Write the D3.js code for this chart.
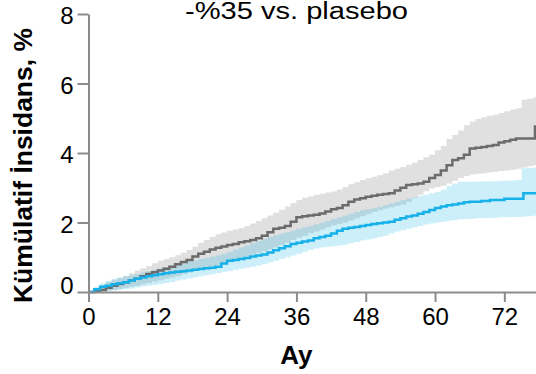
<!DOCTYPE html>
<html><head><meta charset="utf-8">
<script src="https://cdn.jsdelivr.net/npm/d3@7"></script>
<style>html,body{margin:0;padding:0;background:#fff;}svg{display:block;}</style>
</head><body>
<svg id="c" width="536" height="374"></svg>
<script>
const title = "-%35 vs. plasebo";
const yLabel = "Kümülatif İnsidans, %";
const xLabel = "Ay";
const xTicks = [0, 12, 24, 36, 48, 60, 72];
const yTicks = [0, 2, 4, 6, 8];

// Placebo (gray) step curve: [month, %]
const placebo = [[0,0],[1,0.02],[2,0.06],[3,0.12],[4,0.18],[5,0.23],[6,0.28],[7,0.33],[8,0.38],[9,0.45],[10,0.52],[11,0.57],[12,0.62],[13,0.67],[14,0.73],[15,0.8],[16,0.86],[17,0.92],[18,1.02],[19,1.1],[20,1.16],[21,1.22],[22,1.27],[23,1.31],[24,1.35],[25,1.38],[26,1.43],[27,1.46],[28,1.5],[29,1.55],[30,1.62],[31,1.72],[32,1.82],[33,1.85],[34,1.9],[35,2.02],[36,2.15],[37,2.18],[38,2.2],[39,2.22],[40,2.26],[41,2.32],[42,2.38],[43,2.42],[44,2.5],[45,2.6],[46,2.66],[47,2.7],[48,2.74],[49,2.77],[50,2.8],[51,2.82],[52,2.84],[53,2.92],[54,3.0],[55,3.08],[56,3.1],[57,3.12],[58,3.17],[59,3.28],[60,3.37],[61,3.5],[62,3.65],[63,3.8],[64,3.85],[65,3.95],[66,4.13],[67,4.15],[68,4.17],[69,4.2],[70,4.23],[71,4.3],[72,4.34],[73,4.38],[74,4.42],[77.3,4.76],[78,4.76]];

// Treatment (blue) step curve
const treatment = [[0,0],[1,0.08],[2,0.15],[3,0.18],[4,0.22],[5,0.25],[6,0.28],[7,0.33],[8,0.38],[9,0.42],[10,0.45],[11,0.48],[12,0.51],[13,0.54],[14,0.56],[15,0.58],[16,0.6],[17,0.62],[18,0.64],[19,0.66],[20,0.68],[21,0.7],[22,0.73],[23,0.82],[24,0.9],[25,0.92],[26,0.95],[27,0.98],[28,1.02],[29,1.05],[30,1.08],[31,1.14],[32,1.2],[33,1.26],[34,1.32],[35,1.38],[36,1.42],[37,1.45],[38,1.48],[39,1.55],[40,1.58],[41,1.62],[42,1.68],[43,1.76],[44,1.82],[45,1.85],[46,1.87],[47,1.9],[48,1.93],[49,1.96],[50,1.98],[51,2.0],[52,2.02],[53,2.08],[54,2.12],[55,2.17],[56,2.2],[57,2.25],[58,2.3],[59,2.36],[60,2.42],[61,2.46],[62,2.5],[63,2.52],[64,2.55],[65,2.58],[66,2.6],[68,2.62],[69.5,2.65],[72,2.68],[75.3,2.84],[78,2.84]];

// Confidence bands: [month, lower, upper]
const placeboCI = [[0,0,0.02],[1,0,0.1],[2,0.02,0.2],[3,0.04,0.28],[4,0.06,0.35],[5,0.09,0.4],[6,0.12,0.46],[7,0.15,0.54],[8,0.18,0.62],[9,0.22,0.68],[10,0.26,0.75],[11,0.3,0.83],[12,0.34,0.9],[13,0.38,0.95],[14,0.42,1.0],[15,0.46,1.06],[16,0.51,1.13],[17,0.56,1.21],[18,0.61,1.3],[19,0.66,1.42],[20,0.7,1.5],[21,0.74,1.58],[22,0.78,1.66],[23,0.82,1.71],[24,0.87,1.76],[25,0.92,1.8],[26,0.97,1.84],[27,1.02,1.9],[28,1.07,1.97],[29,1.12,2.04],[30,1.17,2.12],[31,1.22,2.2],[32,1.28,2.28],[33,1.35,2.37],[34,1.42,2.46],[35,1.5,2.56],[36,1.56,2.65],[37,1.62,2.71],[38,1.69,2.75],[39,1.74,2.79],[40,1.8,2.83],[41,1.86,2.86],[42,1.92,2.89],[43,1.96,2.95],[44,2.0,3.02],[45,2.06,3.1],[46,2.12,3.16],[47,2.18,3.22],[48,2.24,3.27],[49,2.3,3.32],[50,2.35,3.36],[51,2.4,3.42],[52,2.44,3.5],[53,2.48,3.55],[54,2.52,3.6],[55,2.6,3.66],[56,2.7,3.72],[57,2.8,3.8],[58,2.9,3.88],[59,2.98,3.95],[60,3.02,4.08],[61,3.06,4.2],[62,3.12,4.4],[63,3.2,4.52],[64,3.28,4.65],[65,3.34,4.8],[66,3.38,4.91],[67,3.4,4.98],[68,3.42,5.03],[69,3.44,5.07],[70,3.46,5.1],[71,3.48,5.15],[72,3.5,5.2],[73,3.52,5.25],[74,3.55,5.29],[75,3.58,5.53],[76,3.62,5.56],[77,3.65,5.6],[78,3.68,5.65]];
const treatmentCI = [[0,0,0.02],[1,0,0.15],[2,0.02,0.25],[3,0.03,0.32],[4,0.04,0.38],[5,0.06,0.42],[6,0.08,0.45],[7,0.1,0.48],[8,0.13,0.52],[9,0.16,0.56],[10,0.18,0.6],[11,0.2,0.64],[12,0.23,0.68],[13,0.26,0.72],[14,0.29,0.76],[15,0.33,0.8],[16,0.36,0.84],[17,0.39,0.88],[18,0.42,0.91],[19,0.45,0.95],[20,0.48,0.98],[21,0.51,1.02],[22,0.55,1.06],[23,0.58,1.1],[24,0.6,1.15],[25,0.64,1.22],[26,0.67,1.28],[27,0.7,1.34],[28,0.73,1.4],[29,0.76,1.47],[30,0.8,1.53],[31,0.85,1.58],[32,0.9,1.63],[33,0.95,1.68],[34,1.0,1.72],[35,1.05,1.77],[36,1.1,1.82],[37,1.16,1.86],[38,1.21,1.9],[39,1.25,1.95],[40,1.28,2.0],[41,1.3,2.05],[42,1.32,2.1],[43,1.34,2.15],[44,1.36,2.2],[45,1.4,2.25],[46,1.44,2.3],[47,1.48,2.35],[48,1.51,2.38],[49,1.54,2.41],[50,1.58,2.45],[51,1.62,2.5],[52,1.68,2.55],[53,1.74,2.6],[54,1.78,2.64],[55,1.82,2.68],[56,1.86,2.72],[57,1.9,2.76],[58,1.94,2.8],[59,1.97,2.84],[60,2.0,2.88],[61,2.02,2.95],[62,2.05,3.05],[63,2.07,3.12],[64,2.09,3.17],[65,2.1,3.17],[66,2.11,3.17],[67,2.12,3.18],[68,2.13,3.18],[69,2.13,3.19],[70,2.14,3.19],[71,2.15,3.2],[72,2.15,3.2],[73,2.16,3.21],[74,2.16,3.22],[75,2.17,3.56],[76,2.18,3.57],[77,2.2,3.58],[78,2.22,3.6]];

const svg = d3.select("#c");
const x = d3.scaleLinear().domain([0, 78]).range([88.5, 539]);
const y = d3.scaleLinear().domain([0, 8]).range([292, 14]);
const axisColor = "#8c8c8c";

const area = d3.area().curve(d3.curveStepAfter)
  .x(d => x(d[0])).y0(d => y(d[1])).y1(d => y(d[2]));
const line = d3.line().curve(d3.curveStepAfter)
  .x(d => x(d[0])).y(d => y(d[1]));

svg.append("path").datum(placeboCI).attr("d", area).attr("fill", "#e0e0e0");
svg.append("path").datum(treatmentCI).attr("d", area).attr("fill", "rgba(0,176,232,0.2)");
svg.append("path").datum(placebo).attr("d", line).attr("fill", "none")
  .attr("stroke", "#6b6b6b").attr("stroke-width", 2.5);
svg.append("path").datum(treatment).attr("d", line).attr("fill", "none")
  .attr("stroke", "#17b1ea").attr("stroke-width", 2.5);

// Axes
const xAxis = d3.axisBottom(x).tickValues(xTicks).tickSize(10).tickPadding(6).tickSizeOuter(0);
const gx = svg.append("g").attr("transform", `translate(0,${y(0)})`).call(xAxis);
gx.select(".domain").attr("stroke", axisColor).attr("stroke-width", 2);
gx.selectAll(".tick line").attr("stroke", axisColor).attr("stroke-width", 2);
gx.selectAll(".tick text").attr("font-family", "Liberation Sans, Arial, sans-serif")
  .attr("font-size", 24).attr("fill", "#000");

const yAxis = d3.axisLeft(y).tickValues(yTicks).tickSize(11).tickPadding(4).tickSizeOuter(0);
const gy = svg.append("g").attr("transform", `translate(${x(0)},0)`).call(yAxis);
gy.select(".domain").attr("stroke", axisColor).attr("stroke-width", 2);
gy.selectAll(".tick line").attr("stroke", axisColor).attr("stroke-width", 2);
gy.selectAll(".tick text").attr("font-family", "Liberation Sans, Arial, sans-serif")
  .attr("font-size", 24).attr("fill", "#000")
  .attr("dy", d => d === 0 ? "0.05em" : "0.4em");

// Labels
svg.append("text").attr("x", x(36)).attr("y", 364).attr("text-anchor", "middle")
  .attr("font-family", "Liberation Sans, Arial, sans-serif").attr("font-weight", "bold")
  .attr("font-size", 26).text(xLabel);
svg.append("text").attr("transform", "translate(32,165.5) rotate(-90)").attr("text-anchor", "middle")
  .attr("font-family", "Liberation Sans, Arial, sans-serif").attr("font-weight", "bold")
  .attr("font-size", 25).attr("textLength", 275).attr("lengthAdjust", "spacingAndGlyphs").text(yLabel);
svg.append("text").attr("x", 296.5).attr("y", 18.5).attr("text-anchor", "middle")
  .attr("font-family", "Liberation Sans, Arial, sans-serif")
  .attr("font-size", 23).attr("textLength", 223).attr("lengthAdjust", "spacingAndGlyphs").text(title);
</script>
</body></html>
